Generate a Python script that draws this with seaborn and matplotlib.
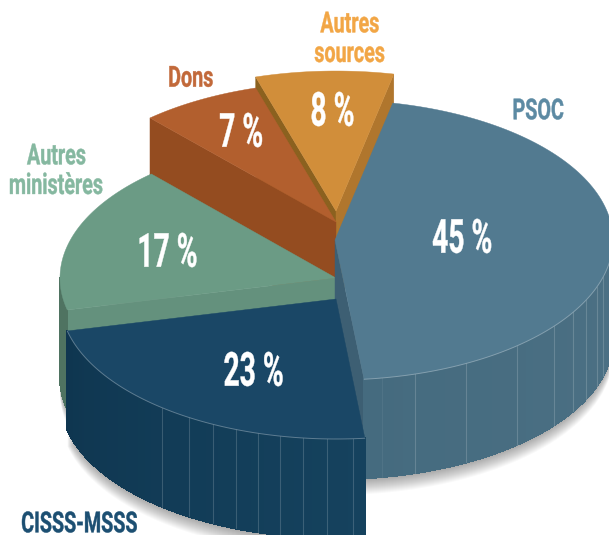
import numpy as np
import matplotlib
matplotlib.use("Agg")
import matplotlib.pyplot as plt
import matplotlib.text as mtext
from matplotlib.collections import PolyCollection
from matplotlib.font_manager import FontProperties
from matplotlib.patches import Polygon
from matplotlib.path import Path
from matplotlib.textpath import TextPath
from matplotlib.transforms import Affine2D
import seaborn as sns

# --- data -----------------------------------------------------------------
categories = ["PSOC", "CISSS-MSSS", "Autres ministères", "Dons", "Autres sources"]
shares = [45, 23, 17, 7, 8]
share_labels = ["45 %", "23 %", "17 %", "7 %", "8 %"]
name_labels = ["PSOC", "CISSS-MSSS", "Autres\nministères", "Dons", "Autres\nsources"]

# --- style ----------------------------------------------------------------
top_colors = sns.color_palette(["#527a90", "#1a4766", "#6b9b85", "#b25f2e", "#d18e3a"])
name_colors = ["#5c8aa3", "#1c4f72", "#85b8a0", "#c2693a", "#f2a645"]
side_start = {0: "#4d7185", 1: "#0f3650", 2: "#4f7361"}
side_end = {0: "#456b7f", 1: "#15425e", 2: "#4f7361"}
start_face = {2: "#64917d", 3: "#944c20", 4: "#8b611f"}   # cut at wedge start
end_face = {0: "#3d5f73", 4: "#b0762d"}                   # cut at wedge end
apex = [(335, 240), (336, 299), (336, 278), (336, 222), (336, 211)]
radius_x = [278, 276, 276, 278, 278]
RY, DEPTH, START = 140, 99, -78
rib_x = {0: [382, 415, 466, 517, 554, 573, 586, 597, 603],
         1: [162, 189, 213, 236, 258, 280, 303, 327, 353]}
name_pos = [(538.5, 109), (22, 522), (10, 169), (191, 76.5), (349.5, 37)]
name_ha = ["center", "left", "left", "center", "center"]
share_pos = [(462, 236), (253.5, 369), (168, 250), (241, 130), (332.5, 109)]
draw_order = [4, 3, 2, 0, 1]


class CondensedText(mtext.Text):
    """Real text object, painted with a horizontal squeeze (condensed face)."""
    squeeze = 0.6

    def _glyphs(self, renderer):
        dpi = self.figure.dpi
        prop = self.get_fontproperties()
        paths, lead = [], prop.get_size_in_points() * 1.02
        for i, line in enumerate(self.get_text().split("\n")):
            p = TextPath((0, 0), line, prop=prop)
            ext = p.get_extents()
            cx = (ext.x0 + ext.x1) / 2
            paths.append(Path(p.vertices - [cx, i * lead], p.codes))
        whole = Path.make_compound_path(*paths)
        ext = whole.get_extents()
        x, y = self.get_transform().transform(self.get_position())
        x0 = (ext.x0 + ext.x1) / 2 if self.get_ha() == "center" else ext.x0
        tr = (Affine2D().translate(-x0, -(ext.y0 + ext.y1) / 2)
              .scale(self.squeeze * dpi / 72, dpi / 72).translate(x, y))
        return whole, tr

    def get_window_extent(self, renderer=None, dpi=None):
        whole, tr = self._glyphs(renderer)
        return whole.get_extents(tr)

    def draw(self, renderer):
        whole, tr = self._glyphs(renderer)
        gc = renderer.new_gc()
        gc.set_foreground(self.get_color())
        gc.set_linewidth(0.3)
        renderer.draw_path(gc, whole, tr, matplotlib.colors.to_rgba(self.get_color()))
        gc.restore()


def put_text(ax, xy, s, color, px, squeeze, ha="center"):
    t = CondensedText(xy[0], xy[1], s, color=color, ha=ha, va="center",
                      fontproperties=FontProperties(family="Roboto", weight="bold", size=px * 0.72))
    t.squeeze = squeeze
    t.set_zorder(30)
    ax.add_artist(t)
    return t


def rim(i, a, b, n=120):
    t = np.radians(np.linspace(a, b, n))
    return np.c_[apex[i][0] + radius_x[i] * np.cos(t), apex[i][1] + RY * np.sin(t)]


sns.set_theme(style="white")
fig = plt.figure(figsize=(6.09, 5.35), dpi=100, facecolor="white")
ax = fig.add_axes([0, 0, 1, 1])
ax.set_xlim(0, 609)
ax.set_ylim(535, 0)
ax.axis("off")

edges = START + np.concatenate([[0], np.cumsum(shares)]) * 3.6
spans = list(zip(edges[:-1], edges[1:]))

# soft shadow below the solid
for k in range(1, 17):
    for i in (0, 1, 2):
        a, b = spans[i]
        pts = np.vstack([[apex[i]], rim(i, a, b)]) + [0, DEPTH + k]
        ax.add_patch(Polygon(pts, fc="black", ec="none", alpha=0.022, zorder=1))

z = 2
for i in draw_order:
    a, b = spans[i]
    # cut faces
    for ang, faces in ((a, start_face), (b, end_face)):
        if i in faces:
            e = rim(i, ang, ang, 1)[0]
            ax.add_patch(Polygon([apex[i], e, e + [0, DEPTH], np.array(apex[i]) + [0, DEPTH]],
                                 fc=faces[i], ec=faces[i], lw=0.3, zorder=z))
    # outer wall
    if i in side_start:
        lo, hi = (a, b) if i != 2 else (a, 180.0)
        lo = max(lo, -5)
        ring = rim(i, lo, hi, 90)
        ca, cb = map(np.array, (matplotlib.colors.to_rgb(side_start[i]), matplotlib.colors.to_rgb(side_end[i])))
        f = np.linspace(0, 1, len(ring) - 1)[:, None]
        if i == 1:
            f = f[::-1]
        cols = ca + (cb - ca) * f
        quads = [[ring[j], ring[j + 1], ring[j + 1] + [0, DEPTH], ring[j] + [0, DEPTH]]
                 for j in range(len(ring) - 1)]
        ax.add_collection(PolyCollection(quads, facecolors=cols, edgecolors=cols, linewidths=0.8,
                                         antialiaseds=False, zorder=z))
        for x in rib_x.get(i, []):
            t = np.arccos((x - apex[i][0]) / radius_x[i])
            y = apex[i][1] + RY * np.sin(t)
            ax.plot([x, x], [y, y + DEPTH], color="white", alpha=0.17 if x != 382 else 0.06, lw=0.8, zorder=z)
    # top face
    top = np.vstack([[apex[i]], rim(i, a, b)])
    ax.add_patch(Polygon(top, fc=top_colors[i], ec=top_colors[i], lw=0.3, zorder=z))
    if i in (0, 1):
        r = rim(i, a if i == 1 else -5, b)
        ax.plot(r[:, 0], r[:, 1], color="white", alpha=0.3, lw=0.7, zorder=z)
    z += 1

for i in range(len(categories)):
    put_text(ax, share_pos[i], share_labels[i], "white", 47, 0.60)
    put_text(ax, name_pos[i], name_labels[i], name_colors[i], 29, 0.68, name_ha[i])

fig.savefig("out.png", dpi=100, facecolor="white")
